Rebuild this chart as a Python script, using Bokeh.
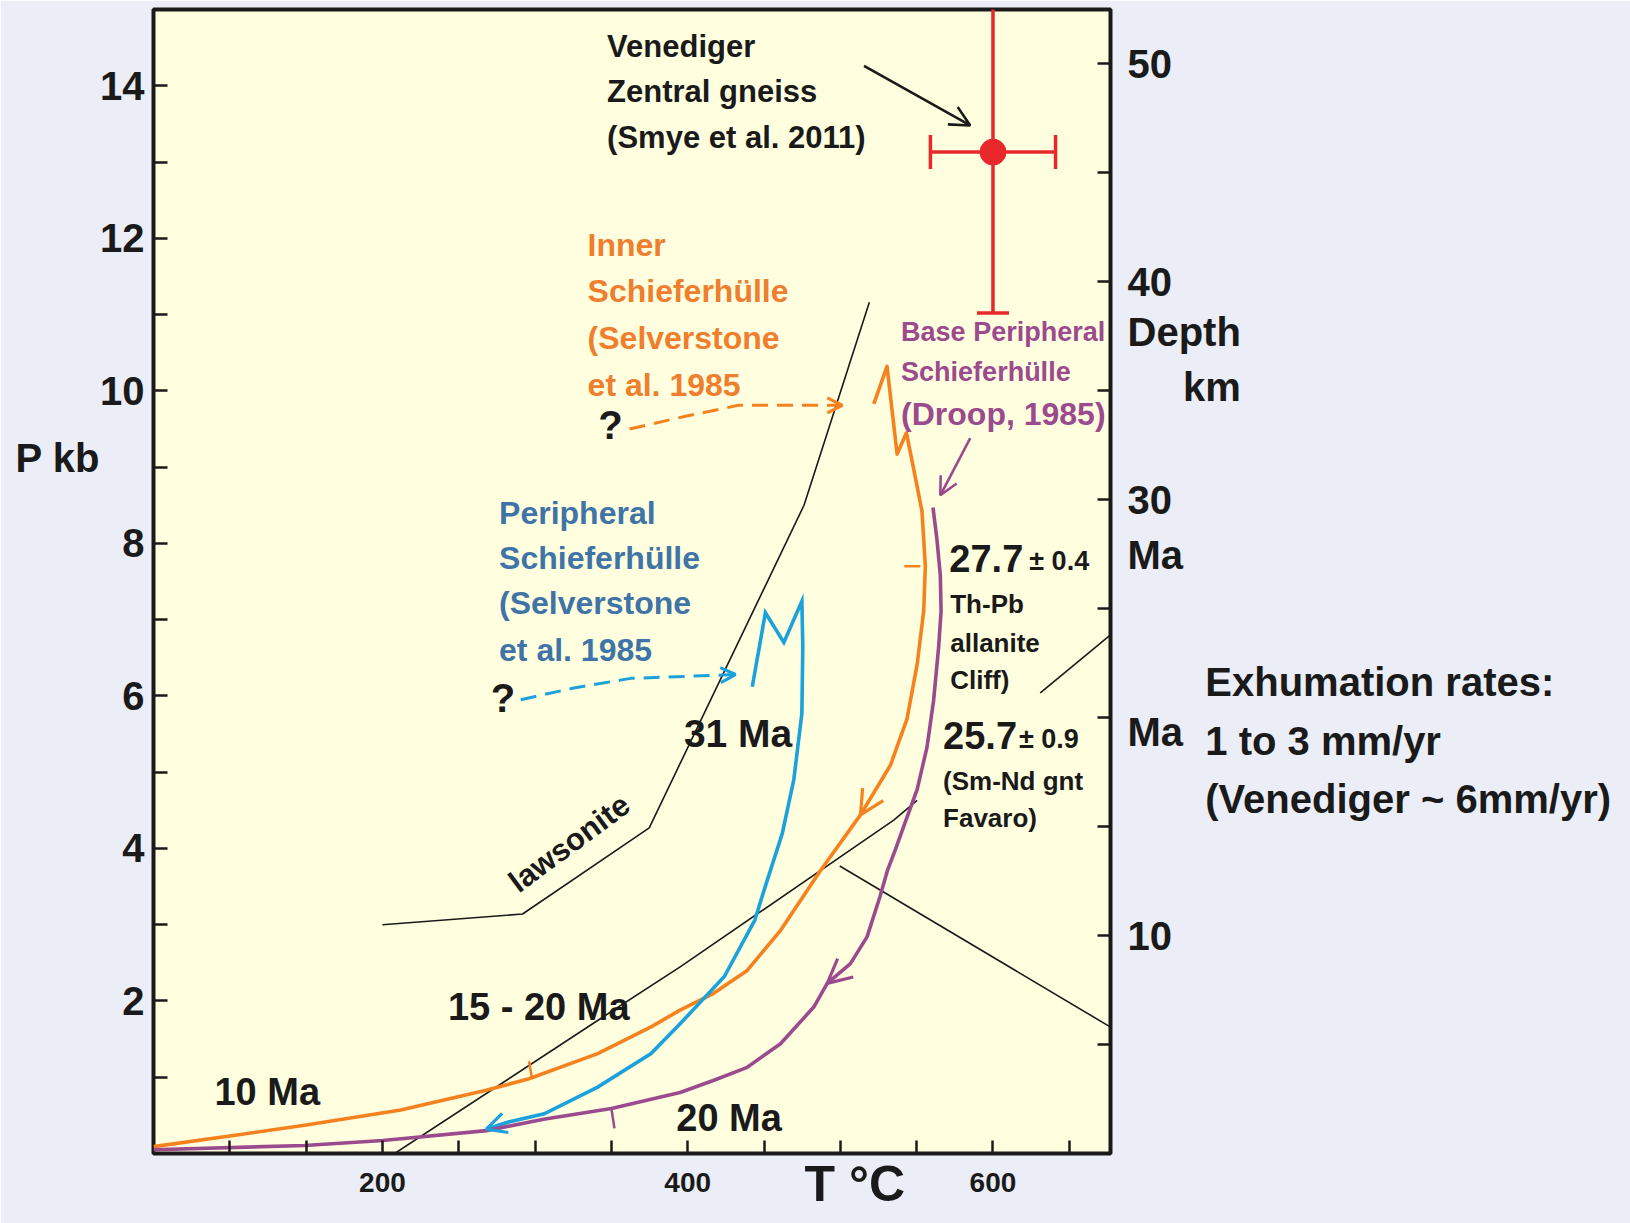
import math
from bokeh.plotting import figure
from bokeh.models import Range1d, LinearAxis, FixedTicker, Label, Arrow, OpenHead
from bokeh.embed import file_html
from bokeh.resources import INLINE

# ---- P-T paths (T in deg C, P in kbar) ----
inner_T = [521.9, 530.6, 537.2, 543.3, 548.0, 553.5, 555.7, 554.6, 550.3, 543.7, 532.8, 513.2,
           487.0, 461.0, 439.0, 417.0, 395.0, 376.0, 341.0, 296.0, 268.0, 212.0, 149.0, 100.0, 50.0]
inner_P = [9.83, 10.32, 9.17, 9.45, 8.98, 8.42, 7.70, 7.11, 6.41, 5.70, 5.09, 4.44,
           3.71, 2.93, 2.40, 2.10, 1.88, 1.66, 1.31, 0.98, 0.83, 0.57, 0.37, 0.23, 0.09]

periph_T = [442.3, 450.9, 463.0, 474.8, 475.4, 474.8, 469.5, 462.0, 450.0, 444.0, 424.0,
            395.0, 376.0, 341.0, 306.0, 282.0, 268.0]
periph_P = [6.12, 7.09, 6.70, 7.24, 6.65, 5.77, 4.90, 4.20, 3.45, 3.06, 2.32,
            1.70, 1.31, 0.87, 0.52, 0.41, 0.32]

base_T = [560.7, 563.3, 565.5, 566.0, 564.4, 561.1, 556.8, 550.3, 543.0, 536.0, 531.0, 526.0,
          517.5, 506.6, 491.4, 482.6, 460.8, 439.0, 417.2, 395.0, 350.0, 305.6, 268.2, 200.3,
          149.0, 50.0]
base_P = [8.47, 8.05, 7.58, 7.11, 6.64, 5.94, 5.33, 4.77, 4.37, 3.98, 3.72, 3.37,
          2.84, 2.49, 2.23, 1.92, 1.44, 1.13, 0.96, 0.80, 0.59, 0.45, 0.30, 0.17,
          0.105, 0.05]

# dashed "?" continuations
inner_q_T = [361.9, 399.3, 433.3, 501.3]
inner_q_P = [9.50, 9.67, 9.81, 9.81]
periph_q_T = [290.6, 324.5, 362.6, 431.3]
periph_q_P = [5.95, 6.10, 6.23, 6.28]

# short age marks on the paths
inner_mark_T0 = [298.0, 541.9]
inner_mark_P0 = [0.98, 7.70]
inner_mark_T1 = [296.0, 552.4]
inner_mark_P1 = [1.21, 7.70]
base_mark_T0 = [350.0]
base_mark_P0 = [0.59]
base_mark_T1 = [352.0]
base_mark_P1 = [0.33]

# reaction curves
lawsonite_T = [200.0, 291.8, 374.8, 476.2, 519.0]
lawsonite_P = [3.00, 3.14, 4.27, 8.50, 11.16]
react1_T = [208.0, 343.0, 395.3, 535.0, 550.3]
react1_P = [0.00, 1.77, 2.45, 4.37, 4.63]
react2_T = [499.6, 676.8]
react2_P = [3.77, 1.66]
react3_T = [631.0, 677.0]
react3_P = [6.04, 6.80]

# Venediger Zentralgneiss estimate (Smye et al. 2011)
ven_T = [600.0]
ven_P = [13.13]
ven_T_err = 41.0
ven_P_low = 11.02
ven_P_high = 15.2

# axis ticks and their texts
NB = "\u00a0"
T_major = [200, 400, 600]
T_minor = [100, 150, 250, 300, 350, 450, 500, 550, 650]
P_marks = [1, 2, 3, 4, 5, 6, 7, 8, 9, 10, 11, 12, 13, 14]
P_labels = {2: "2", 4: "4", 6: "6", 8: "8", 10: "10", 12: "12", 14: "14",
            9.115: "P kb" + NB * 4}
Z_marks = [5, 10, 15, 20, 25, 30, 35, 40, 45, 50]
Z_labels = {10: "10", 30: "30", 40: "40", 50: "50",
            37.71: "Depth", 35.18: NB * 5 + "km",
            27.45: "Ma", 19.33: "Ma",
            21.62: NB * 7 + "Exhumation rates:",
            18.95: NB * 7 + "1 to 3 mm/yr",
            16.27: NB * 7 + "(Venediger ~ 6mm/yr)"}
T_title = {509.5: "T °C"}

FONT = "Liberation Sans"
INK = "#1a1a1a"
ORANGE = "#f5821f"
CYAN = "#1ba1dc"
PURPLE = "#9c4a8e"
BLUE_TXT = "#3f74a7"
ORANGE_TXT = "#ef7e2f"
RED = "#e8282b"

p = figure(width=1630, height=1223, x_range=Range1d(50, 677), y_range=Range1d(0, 15),
           output_backend="svg", toolbar_location=None,
           min_border_left=153, min_border_right=520, min_border_top=9, min_border_bottom=70,
           background_fill_color="#ffffdf", border_fill_color="#ebeef7",
           outline_line_color=INK, outline_line_width=4)
p.grid.visible = False
p.extra_y_ranges = {"depth": Range1d(0, 52.5)}


def style_axis(ax, size, standoff, tick_len=14):
    ax.axis_line_color = None
    ax.major_tick_in = tick_len
    ax.major_tick_out = 0
    ax.minor_tick_in = tick_len
    ax.minor_tick_out = 0
    ax.major_tick_line_width = 2.5
    ax.minor_tick_line_width = 2.5
    ax.major_tick_line_color = INK
    ax.minor_tick_line_color = INK
    ax.major_label_text_font = FONT
    ax.major_label_text_font_style = "bold"
    ax.major_label_text_font_size = f"{size}px"
    ax.major_label_text_color = INK
    ax.major_label_standoff = standoff


xax = p.xaxis[0]
xax.ticker = FixedTicker(ticks=T_major, minor_ticks=T_minor)
style_axis(xax, 28, 19, 13)

yax = p.yaxis[0]
yax.ticker = FixedTicker(ticks=sorted(P_labels), minor_ticks=P_marks)
yax.major_label_overrides = P_labels
style_axis(yax, 40, 9)
yax.major_tick_line_color = None

zax = LinearAxis(y_range_name="depth",
                 ticker=FixedTicker(ticks=sorted(Z_labels), minor_ticks=Z_marks),
                 major_label_overrides=Z_labels)
style_axis(zax, 40, 17, 13)
zax.major_tick_line_color = None
p.add_layout(zax, "right")

tax = LinearAxis(ticker=FixedTicker(ticks=list(T_title), minor_ticks=[]),
                 major_label_overrides=T_title)
style_axis(tax, 50, -39)
tax.major_tick_line_color = None
tax.minor_tick_line_color = None
p.add_layout(tax, "below")

# reaction curves
for xs, ys in [(lawsonite_T, lawsonite_P), (react1_T, react1_P),
               (react2_T, react2_P), (react3_T, react3_P)]:
    p.line(xs, ys, line_color=INK, line_width=1.6)

# P-T paths
p.line(inner_T, inner_P, line_color=ORANGE, line_width=3.6, line_join="round")
p.line(periph_T, periph_P, line_color=CYAN, line_width=3.6, line_join="miter")
p.line(base_T, base_P, line_color=PURPLE, line_width=3.6, line_join="round")
p.line(inner_q_T, inner_q_P, line_color=ORANGE, line_width=3, line_dash="16 9")
p.line(periph_q_T, periph_q_P, line_color=CYAN, line_width=3, line_dash="16 9")
p.segment(inner_mark_T0, inner_mark_P0, inner_mark_T1, inner_mark_P1, line_color=ORANGE, line_width=2.5)
p.segment(base_mark_T0, base_mark_P0, base_mark_T1, base_mark_P1, line_color=PURPLE, line_width=2.5)


def head(xs, ys, i, color, size):
    p.add_layout(Arrow(end=OpenHead(size=size, line_color=color, line_width=3.2),
                       x_start=xs[i - 1], y_start=ys[i - 1], x_end=xs[i], y_end=ys[i],
                       line_alpha=0))


head(inner_T, inner_P, 11, ORANGE, 24)
head(base_T, base_P, 14, PURPLE, 24)
head(periph_T, periph_P, len(periph_T) - 1, CYAN, 20)
head(inner_q_T, inner_q_P, len(inner_q_T) - 1, ORANGE, 15)
head(periph_q_T, periph_q_P, len(periph_q_T) - 1, CYAN, 15)

# Venediger point with error bars
p.segment([ven_T[0] - ven_T_err], ven_P, [ven_T[0] + ven_T_err], ven_P, line_color=RED, line_width=3.5)
p.segment(ven_T, [ven_P_low], ven_T, [ven_P_high], line_color=RED, line_width=3.5)
p.scatter([ven_T[0] - ven_T_err, ven_T[0] + ven_T_err], [ven_P[0], ven_P[0]], marker="dash",
          size=34, angle=math.pi / 2, line_color=RED, line_width=3.5)
p.scatter(ven_T, [ven_P_low], marker="dash", size=32, line_color=RED, line_width=3.5)
p.scatter(ven_T, ven_P, marker="circle", size=26, fill_color=RED, line_color=RED)

# pointer arrows
p.add_layout(Arrow(end=OpenHead(size=20, line_color=INK, line_width=2.6),
                   x_start=515.5, y_start=14.26, x_end=585.1, y_end=13.48,
                   line_color=INK, line_width=2.6))
p.add_layout(Arrow(end=OpenHead(size=18, line_color=PURPLE, line_width=2.6),
                   x_start=585.1, y_start=9.38, x_end=565.5, y_end=8.63,
                   line_color=PURPLE, line_width=2.6))


def note(x, y, text, size, color=INK, angle=0.0):
    p.add_layout(Label(x=x, y=y, text=text, text_font=FONT, text_font_style="bold",
                       text_font_size=f"{size}px", text_color=color, text_align="left",
                       text_baseline="alphabetic", angle=angle, angle_units="rad",
                       y_offset=round(0.32 * size)))


for txt, yy in [("Venediger", 14.385), ("Zentral gneiss", 13.80), ("(Smye et al. 2011)", 13.19)]:
    note(347.2, yy, txt, 31)
for txt, yy in [("Inner", 11.776), ("Schieferhülle", 11.176), ("(Selverstone", 10.565), ("et al. 1985", 9.951)]:
    note(334.4, yy, txt, 32, ORANGE_TXT)
note(341.4, 9.38, "?", 40)
for txt, yy in [("Peripheral", 8.267), ("Schieferhülle", 7.676), ("(Selverstone", 7.086), ("et al. 1985", 6.472)]:
    note(276.4, yy, txt, 32, BLUE_TXT)
note(271.0, 5.80, "?", 40)
note(539.8, 10.65, "Base Peripheral", 27, PURPLE)
note(539.8, 10.135, "Schieferhülle", 27, PURPLE)
note(539.8, 9.57, "(Droop, 1985)", 32, PURPLE)
note(571.4, 7.65, "27.7", 38)
note(623.8, 7.65, "± 0.4", 27)
for txt, yy in [("Th-Pb", 7.10), ("allanite", 6.59), ("Cliff)", 6.10)]:
    note(572.0, yy, txt, 26)
note(567.3, 5.32, "25.7", 38)
note(617.0, 5.32, "± 0.9", 27)
note(567.3, 4.78, "(Sm-Nd gnt", 26)
note(567.3, 4.29, "Favaro)", 26)
note(397.5, 5.356, "31 Ma", 39)
note(285.2, 3.387, "lawsonite", 31, angle=0.637)
note(242.9, 1.77, "15 - 20 Ma", 38)
note(89.9, 0.643, "10 Ma", 38)
note(392.5, 0.31, "20 Ma", 38)

open("out.html", "w").write(file_html(p, INLINE))
